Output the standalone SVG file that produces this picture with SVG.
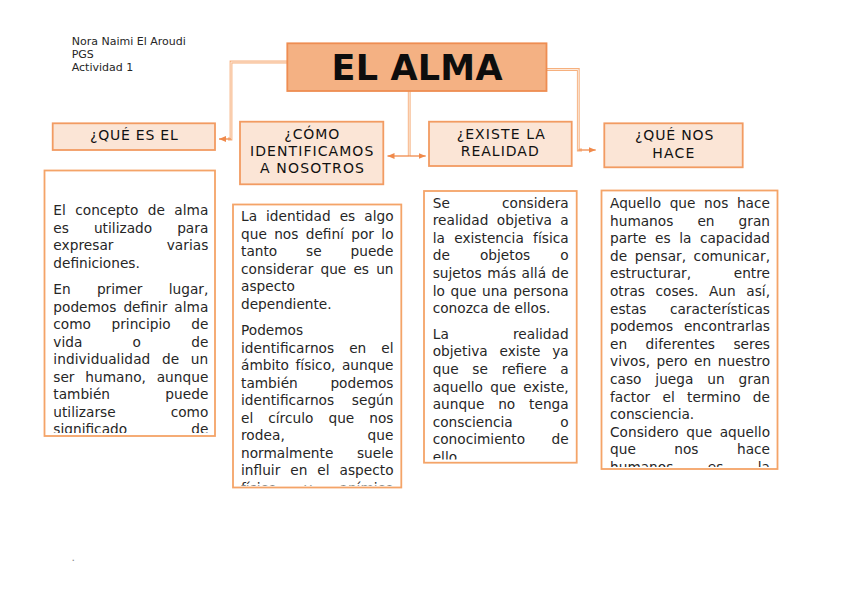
<svg xmlns="http://www.w3.org/2000/svg" width="848" height="599" viewBox="0 0 848 599">
<style>
text{font-family:"DejaVu Sans","Verdana",sans-serif;}
.bg{fill:#ffffff;}
.title{fill:#f4b183;stroke:#ee8d52;stroke-width:1.8;}
.head{fill:#fbe5d6;stroke:#f29b62;stroke-width:1.8;}
.body{fill:#ffffff;stroke:#f4a468;stroke-width:1.8;}
.tt{font-size:35px;font-weight:bold;fill:#0d0d0d;text-anchor:middle;}
.ht{font-size:14px;fill:#111;text-anchor:middle;}
.bt{font-size:13.7px;fill:#262626;}
.au{font-size:11px;fill:#262626;}
.co{fill:none;stroke:#f6b07e;stroke-width:2.8;}
.ci{fill:none;stroke:#fde9da;stroke-width:1;}
.ca{fill:none;stroke:#f08a4b;stroke-width:1.3;marker-end:url(#arr);}
</style>
<defs>
<marker id="arr" markerUnits="userSpaceOnUse" markerWidth="8" markerHeight="7" refX="7" refY="3.5" orient="auto">
<path d="M0,0.5 L7,3.5 L0,6.5 z" fill="#f08a4b"/>
</marker>
<clipPath id="c1"><rect x="45" y="171" width="170" height="262"/></clipPath>
<clipPath id="c2"><rect x="233" y="205" width="168" height="280.5"/></clipPath>
<clipPath id="c3"><rect x="424" y="191" width="152" height="268.5"/></clipPath>
<clipPath id="c4"><rect x="601" y="191" width="176" height="276"/></clipPath>
</defs>
<rect class="bg" x="0" y="0" width="848" height="599"/>

<g id="author">
<text class="au" x="71.7" y="45">Nora Naimi El Aroudi</text>
<text class="au" x="71.7" y="58.3">PGS</text>
<text class="au" x="71.7" y="70.8">Actividad 1</text>
</g>

<g id="connectors">
<path class="co" d="M287.3,62 H231 V139 H228"/>
<path class="ci" d="M287.3,62 H231 V139 H228"/>
<path class="ca" d="M231,139 H219"/>
<path class="co" d="M409.2,91 V156"/>
<path class="ci" d="M409.2,91 V156"/>
<path class="ca" d="M409.2,156 H387.5"/>
<path class="ca" d="M409.2,156 H425.7"/>
<path class="co" d="M546.5,69.5 H578.3 V150 H582"/>
<path class="ci" d="M546.5,69.5 H578.3 V150 H582"/>
<path class="ca" d="M578.3,150 H595.7"/>
</g>

<g id="title">
<rect class="title" x="287.3" y="43.3" width="259.2" height="47.7"/>
<text class="tt" x="417" y="80" textLength="171" lengthAdjust="spacing">EL ALMA</text>
</g>

<g id="q1">
<rect class="head" x="52.7" y="123.3" width="162.3" height="26.7"/>
<text class="ht" x="133.9" y="140" textLength="87.7" lengthAdjust="spacing">¿QUÉ ES EL</text>
</g>

<g id="q2">
<rect class="head" x="240" y="121.7" width="143.3" height="62.6"/>
<text class="ht" x="311.8" y="139.3" textLength="55" lengthAdjust="spacing">¿CÓMO</text>
<text class="ht" x="311.7" y="156" textLength="123.3" lengthAdjust="spacing">IDENTIFICAMOS</text>
<text class="ht" x="312" y="173.3" textLength="104" lengthAdjust="spacing">A NOSOTROS</text>
</g>

<g id="q3">
<rect class="head" x="429" y="121.7" width="142.7" height="44.3"/>
<text class="ht" x="500.8" y="139.3" textLength="88.3" lengthAdjust="spacing">¿EXISTE LA</text>
<text class="ht" x="499.7" y="156" textLength="78" lengthAdjust="spacing">REALIDAD</text>
</g>

<g id="q4">
<rect class="head" x="604.3" y="123.3" width="138.4" height="44"/>
<text class="ht" x="674.2" y="140" textLength="78.3" lengthAdjust="spacing">¿QUÉ NOS</text>
<text class="ht" x="673.3" y="158.3" textLength="42" lengthAdjust="spacing">HACE</text>
</g>

<g id="t1">
<rect class="body" x="44.5" y="170.5" width="170.5" height="265.5"/>
<g clip-path="url(#c1)">
<text class="bt" x="53.3" y="215" textLength="155" lengthAdjust="spacing" style="word-spacing:5.1px">El concepto de alma</text>
<text class="bt" x="53.3" y="232.5" textLength="155" lengthAdjust="spacing" style="word-spacing:20.7px">es utilizado para</text>
<text class="bt" x="53.3" y="250" textLength="155" lengthAdjust="spacing" style="word-spacing:48.7px">expresar varias</text>
<text class="bt" x="53.3" y="267.5">definiciones.</text>
<text class="bt" x="53.3" y="294" textLength="155" lengthAdjust="spacing" style="word-spacing:21.9px">En primer lugar,</text>
<text class="bt" x="53.3" y="311.5" textLength="155" lengthAdjust="spacing" style="word-spacing:2.7px">podemos definir alma</text>
<text class="bt" x="53.3" y="329" textLength="155" lengthAdjust="spacing" style="word-spacing:16.2px">como principio de</text>
<text class="bt" x="53.3" y="346.5" textLength="155" lengthAdjust="spacing" style="word-spacing:45.9px">vida o de</text>
<text class="bt" x="53.3" y="364" textLength="155" lengthAdjust="spacing" style="word-spacing:7.2px">individualidad de un</text>
<text class="bt" x="53.3" y="381.5" textLength="155" lengthAdjust="spacing" style="word-spacing:6.5px">ser humano, aunque</text>
<text class="bt" x="53.3" y="399" textLength="155" lengthAdjust="spacing" style="word-spacing:51px">también puede</text>
<text class="bt" x="53.3" y="416.5" textLength="155" lengthAdjust="spacing" style="word-spacing:50.7px">utilizarse como</text>
<text class="bt" x="53.3" y="434" textLength="155" lengthAdjust="spacing" style="word-spacing:59.7px">significado de</text>
</g>
</g>

<g id="t2">
<rect class="body" x="233" y="204.5" width="168.3" height="283"/>
<g clip-path="url(#c2)">
<text class="bt" x="241" y="221" textLength="152.5" lengthAdjust="spacing" style="word-spacing:4.7px">La identidad es algo</text>
<text class="bt" x="241" y="238.5" textLength="152.5" lengthAdjust="spacing" style="word-spacing:3px">que nos definí por lo</text>
<text class="bt" x="241" y="256" textLength="152.5" lengthAdjust="spacing" style="word-spacing:24.5px">tanto se puede</text>
<text class="bt" x="241" y="273.5" textLength="152.5" lengthAdjust="spacing" style="word-spacing:2.8px">considerar que es un</text>
<text class="bt" x="241" y="291">aspecto</text>
<text class="bt" x="241" y="308.5">dependiente.</text>
<text class="bt" x="241" y="335">Podemos</text>
<text class="bt" x="241" y="352.5" textLength="152.5" lengthAdjust="spacing" style="word-spacing:10.6px">identificarnos en el</text>
<text class="bt" x="241" y="370" textLength="152.5" lengthAdjust="spacing" style="word-spacing:2.2px">ámbito físico, aunque</text>
<text class="bt" x="241" y="387.5" textLength="152.5" lengthAdjust="spacing" style="word-spacing:28.3px">también podemos</text>
<text class="bt" x="241" y="405" textLength="152.5" lengthAdjust="spacing" style="word-spacing:13.3px">identificarnos según</text>
<text class="bt" x="241" y="422.5" textLength="152.5" lengthAdjust="spacing" style="word-spacing:10.6px">el círculo que nos</text>
<text class="bt" x="241" y="440" textLength="152.5" lengthAdjust="spacing" style="word-spacing:78.4px">rodea, que</text>
<text class="bt" x="241" y="457.5" textLength="152.5" lengthAdjust="spacing" style="word-spacing:19.2px">normalmente suele</text>
<text class="bt" x="241" y="475" textLength="152.5" lengthAdjust="spacing" style="word-spacing:5.6px">influir en el aspecto</text>
<text class="bt" x="241" y="492.5" textLength="152.5" lengthAdjust="spacing" style="word-spacing:23.1px">físico y anímico</text>
</g>
</g>

<g id="t3">
<rect class="body" x="424" y="191" width="152.7" height="271.7"/>
<g clip-path="url(#c3)">
<text class="bt" x="432.7" y="207.5" textLength="136" lengthAdjust="spacing" style="word-spacing:47.8px">Se considera</text>
<text class="bt" x="432.7" y="225.1" textLength="136" lengthAdjust="spacing" style="word-spacing:4px">realidad objetiva a</text>
<text class="bt" x="432.7" y="242.7" textLength="136" lengthAdjust="spacing" style="word-spacing:4.9px">la existencia física</text>
<text class="bt" x="432.7" y="260.3" textLength="136" lengthAdjust="spacing" style="word-spacing:25.8px">de objetos o</text>
<text class="bt" x="432.7" y="277.9" textLength="136" lengthAdjust="spacing" style="word-spacing:1.2px">sujetos más allá de</text>
<text class="bt" x="432.7" y="295.5" textLength="136" lengthAdjust="spacing" style="word-spacing:1.3px">lo que una persona</text>
<text class="bt" x="432.7" y="313.1">conozca de ellos.</text>
<text class="bt" x="432.7" y="338.7" textLength="136" lengthAdjust="spacing" style="word-spacing:59.7px">La realidad</text>
<text class="bt" x="432.7" y="356.3" textLength="136" lengthAdjust="spacing" style="word-spacing:7.3px">objetiva existe ya</text>
<text class="bt" x="432.7" y="373.9" textLength="136" lengthAdjust="spacing" style="word-spacing:9.3px">que se refiere a</text>
<text class="bt" x="432.7" y="391.5" textLength="136" lengthAdjust="spacing" style="word-spacing:2.8px">aquello que existe,</text>
<text class="bt" x="432.7" y="409.1" textLength="136" lengthAdjust="spacing" style="word-spacing:9.5px">aunque no tenga</text>
<text class="bt" x="432.7" y="426.7" textLength="136" lengthAdjust="spacing" style="word-spacing:43.3px">consciencia o</text>
<text class="bt" x="432.7" y="444.3" textLength="136" lengthAdjust="spacing" style="word-spacing:22.2px">conocimiento de</text>
<text class="bt" x="432.7" y="461.9">ello.</text>
</g>
</g>

<g id="t4">
<rect class="body" x="601.5" y="190.5" width="176" height="278.5"/>
<g clip-path="url(#c4)">
<text class="bt" x="610" y="208" textLength="160" lengthAdjust="spacing" style="word-spacing:4.2px">Aquello que nos hace</text>
<text class="bt" x="610" y="225.6" textLength="160" lengthAdjust="spacing" style="word-spacing:19.7px">humanos en gran</text>
<text class="bt" x="610" y="243.2" textLength="160" lengthAdjust="spacing" style="word-spacing:4.2px">parte es la capacidad</text>
<text class="bt" x="610" y="260.8" textLength="160" lengthAdjust="spacing" style="word-spacing:3.2px">de pensar, comunicar,</text>
<text class="bt" x="610" y="278.4" textLength="160" lengthAdjust="spacing" style="word-spacing:38.2px">estructurar, entre</text>
<text class="bt" x="610" y="296" textLength="160" lengthAdjust="spacing" style="word-spacing:6.2px">otras coses. Aun así,</text>
<text class="bt" x="610" y="313.6" textLength="160" lengthAdjust="spacing" style="word-spacing:19.1px">estas características</text>
<text class="bt" x="610" y="331.2" textLength="160" lengthAdjust="spacing" style="word-spacing:6.5px">podemos encontrarlas</text>
<text class="bt" x="610" y="348.8" textLength="160" lengthAdjust="spacing" style="word-spacing:14px">en diferentes seres</text>
<text class="bt" x="610" y="366.4" textLength="160" lengthAdjust="spacing" style="word-spacing:2.2px">vivos, pero en nuestro</text>
<text class="bt" x="610" y="384" textLength="160" lengthAdjust="spacing" style="word-spacing:9.6px">caso juega un gran</text>
<text class="bt" x="610" y="401.6" textLength="160" lengthAdjust="spacing" style="word-spacing:7.9px">factor el termino de</text>
<text class="bt" x="610" y="419.2">consciencia.</text>
<text class="bt" x="610" y="436.8" textLength="160" lengthAdjust="spacing" style="word-spacing:3.2px">Considero que aquello</text>
<text class="bt" x="610" y="454.4" textLength="160" lengthAdjust="spacing" style="word-spacing:34.1px">que nos hace</text>
<text class="bt" x="610" y="472" textLength="160" lengthAdjust="spacing" style="word-spacing:30.1px">humanos es la</text>
</g>
</g>

<text x="71.5" y="561" style="font-size:11px;fill:#888">.</text>
</svg>
